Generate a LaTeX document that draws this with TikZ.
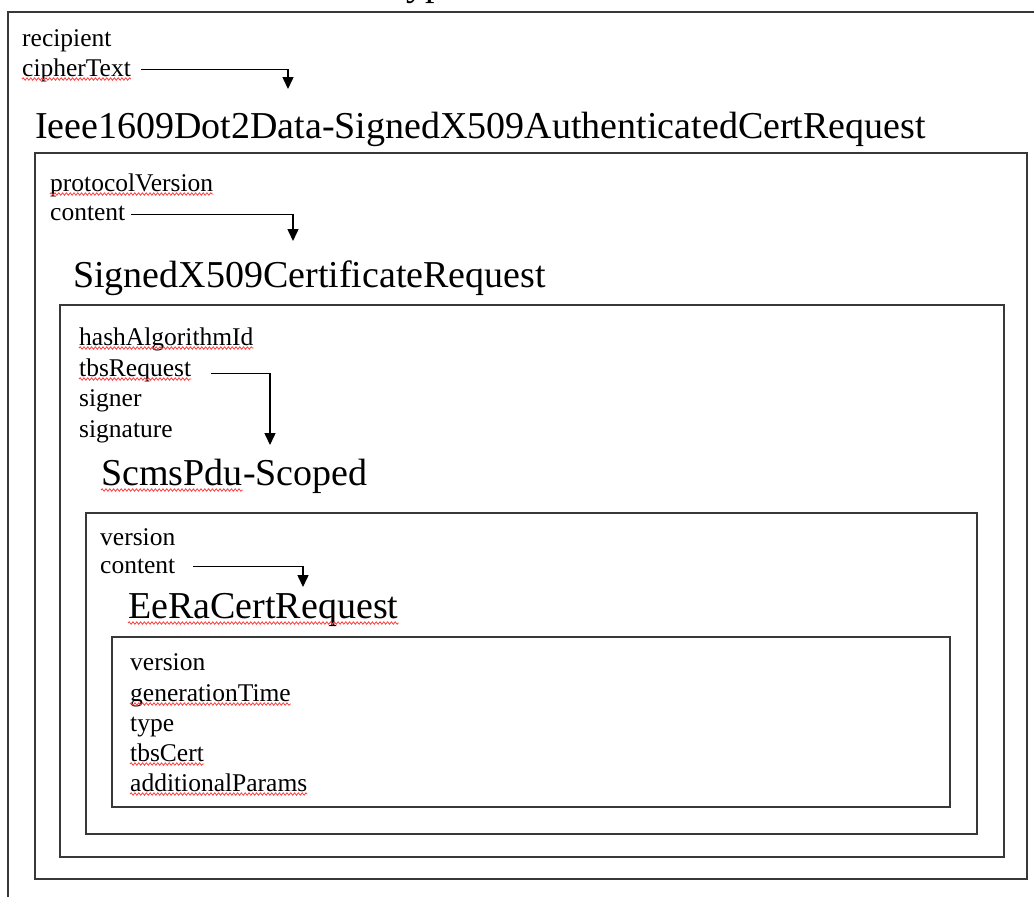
\documentclass[tikz,border=0pt]{standalone}
\usepackage{fontspec}
\setmainfont{Liberation Serif}
\usetikzlibrary{arrows.meta,decorations.pathmorphing}
\tikzset{
  frame/.style={draw=black!78, line width=1.6pt},
  field/.style={anchor=base west, inner sep=0pt, font=\fontsize{25.5}{30}\selectfont},
  typename/.style={anchor=base west, inner sep=0pt, font=\fontsize{38}{44}\selectfont},
  link/.style={line width=1.5pt, -{Triangle[width=11pt,length=12pt]}},
  squig/.style={draw=red!75, line width=0.8pt, decorate, decoration={snake,amplitude=1.2pt,segment length=3.8pt}},
}
\newcommand\wavy[2][3]{\path[squig] ([yshift=-#1pt]#2.base west) -- ([yshift=-#1pt]#2.base east);}
\begin{document}
\begin{tikzpicture}[x=1pt,y=-1pt]
\useasboundingbox (0,0) rectangle (1034,897);
\clip (0,0) rectangle (1034,897);
\fill[white] (0,0) rectangle (1034,897);
% frames
\draw[frame] (8,12) rectangle (1060,920);
\draw[frame] (35,153) rectangle (1027,879);
\draw[frame] (60,305) rectangle (1004,857);
\draw[frame] (86,513) rectangle (977,834);
\draw[frame] (112,637) rectangle (950,807);
% outer title (cut off at top)
\node[typename] (encT) at (35,-5) {Ieee1609Dot2Data-Encrypted};
% level 1
\node[field] (rcp) at (22,46) {recipient};
\node[field] (ct) at (22,76) {cipherText};
\node[typename] (sxa) at (35,138) {Ieee1609Dot2Data-SignedX509AuthenticatedCertRequest};
\coordinate (t1) at (288,89);
\draw[link] ([xshift=10pt,yshift=4pt]ct.mid east) -| (t1);
% level 2
\node[field] (pv) at (50,191) {protocolVersion};
\node[field] (c2) at (50,220) {content};
\node[typename] (sxr) at (73,287) {SignedX509CertificateRequest};
\coordinate (t2) at (293,241);
\draw[link] ([xshift=6pt,yshift=3pt]c2.mid east) -| (t2);
% level 3
\node[field] (hai) at (79,345) {hashAlgorithmId};
\node[field] (tbr) at (79,376) {tbsRequest};
\node[field] (sgr) at (79,406) {signer};
\node[field] (sgn) at (79,437) {signature};
\node[typename] (sp1) at (101,485) {ScmsPdu};
\node[typename, anchor=base west] (sp2) at (sp1.base east) {-Scoped};
\coordinate (t3) at (270,445);
\draw[link] ([xshift=20pt,yshift=0pt]tbr.mid east) -| (t3);
% level 4
\node[field] (v4) at (100,545) {version};
\node[field] (c4) at (100,573) {content};
\node[typename] (eer) at (128,618) {EeRaCertRequest};
\coordinate (t4) at (303,587);
\draw[link] ([xshift=18pt,yshift=4pt]c4.mid east) -| (t4);
% level 5
\node[field] (v5) at (130,670) {version};
\node[field] (gt) at (130,701) {generationTime};
\node[field] (ty) at (130,731) {type};
\node[field] (tc) at (130,761) {tbsCert};
\node[field] (ap) at (130,791) {additionalParams};
% spell-check squiggles
\wavy{ct}
\wavy{pv}
\wavy{hai}
\wavy{tbr}
\wavy[5]{sp1}
\wavy[5]{eer}
\wavy{gt}
\wavy{tc}
\wavy{ap}
\end{tikzpicture}
\end{document}
